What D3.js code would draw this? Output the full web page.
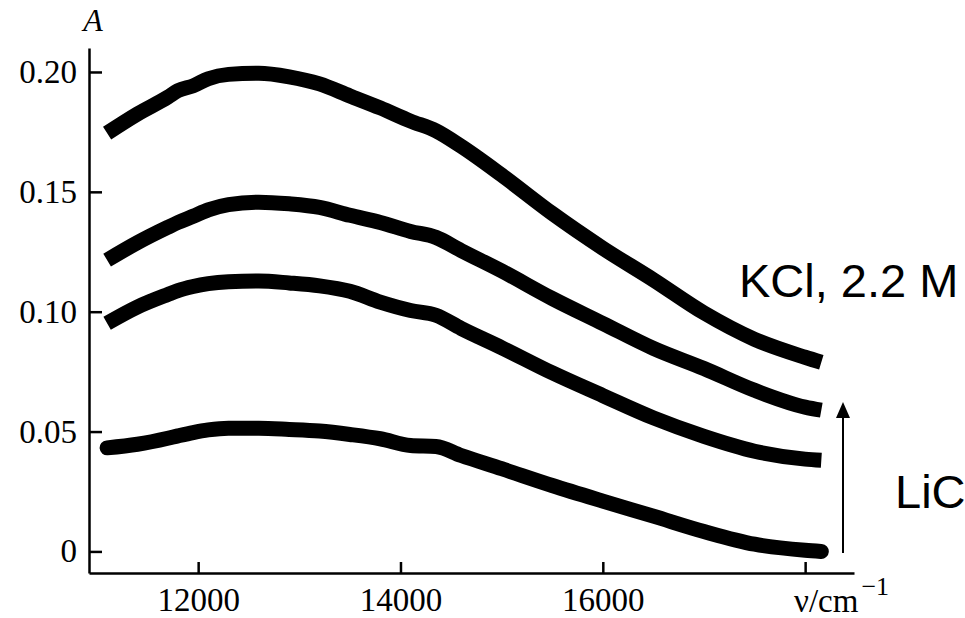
<!DOCTYPE html>
<html lang="en">
<head>
    <meta charset="UTF-8">
    <title>Absorption spectra</title>
    <script src="https://d3js.org/d3.v7.min.js"></script>
    <style>
        body { margin: 0; background: #fff; }
        .axis path, .axis line { stroke: #000; stroke-width: 2.5; fill: none; }
        .axis text { font-family: "Liberation Serif", "Times New Roman", serif; font-size: 33px; fill: #000; }
        .spectrum { fill: none; stroke: #000; stroke-width: 15; }
        .note { font-family: "Liberation Sans", Arial, sans-serif; font-size: 47px; fill: #000; }
    </style>
</head>
<body>
<svg id="chart" width="965" height="618"></svg>
<script>
    // wavenumbers (cm^-1) and absorbance for the four spectra, top to bottom
    const wavenumbers = [11100, 11400, 11700, 11800, 11950, 12100, 12300, 12600, 12900, 13200, 13500, 13800,
                         14100, 14350, 14600, 15000, 15500, 16000, 16500, 17000, 17500, 18000, 18160];
    const spectrum1 = [0.1745, 0.1825, 0.1895, 0.1922, 0.1942, 0.1972, 0.199, 0.1995, 0.198, 0.195, 0.190, 0.185,
                       0.1795, 0.1755, 0.169, 0.157, 0.141, 0.1265, 0.1133, 0.0995, 0.0885, 0.081, 0.0789];
    const spectrum2 = [0.1215, 0.1288, 0.1352, 0.1372, 0.1398, 0.1425, 0.1447, 0.1457, 0.145, 0.1435, 0.1402, 0.1372,
                       0.1335, 0.131, 0.1255, 0.117, 0.1055, 0.0951, 0.0847, 0.0763, 0.0672, 0.0602, 0.0589];
    const spectrum3 = [0.0952, 0.102, 0.1072, 0.1088, 0.1105, 0.1117, 0.1125, 0.1128, 0.112, 0.1108, 0.1085, 0.104,
                       0.1005, 0.0985, 0.093, 0.085, 0.0745, 0.065, 0.0557, 0.048, 0.0418, 0.0385, 0.038];
    const spectrum4 = [0.0432, 0.0447, 0.0472, 0.0482, 0.0496, 0.0507, 0.0514, 0.0514, 0.0509, 0.0502, 0.0488, 0.047,
                       0.0442, 0.0438, 0.040, 0.0345, 0.0275, 0.021, 0.0147, 0.0083, 0.003, 0.0005, 0.0];
    const series = [spectrum1, spectrum2, spectrum3, spectrum4];

    const xTicks = [12000, 14000, 16000, 18000];
    const yTicks = [0, 0.05, 0.10, 0.15, 0.20];

    const svg = d3.select("#chart");

    const x = d3.scaleLinear().domain([10921, 18483]).range([89, 854]);
    const y = d3.scaleLinear().domain([-0.009, 0.21]).range([573, 48]);

    // Y axis, ticks pointing inward
    svg.append("g")
        .attr("class", "axis")
        .attr("transform", "translate(89,0)")
        .call(d3.axisLeft(y)
            .tickValues(yTicks)
            .tickFormat(d => d === 0 ? "0" : d3.format(".2f")(d))
            .tickSizeInner(-13)
            .tickSizeOuter(0)
            .tickPadding(12));

    // X axis, last tick carries the unit instead of a number
    const xAxis = svg.append("g")
        .attr("class", "axis")
        .attr("transform", "translate(0,573)")
        .call(d3.axisBottom(x)
            .tickValues(xTicks)
            .tickFormat(d => d === 18000 ? "" : String(d))
            .tickSizeInner(-11)
            .tickSizeOuter(0)
            .tickPadding(15));
    xAxis.selectAll("line").attr("stroke-width", 2);

    const unit = svg.append("text")
        .attr("x", 794)
        .attr("y", 612)
        .style("font-family", "'Liberation Serif', serif")
        .style("font-size", "33px");
    unit.append("tspan").text("ν/cm");
    unit.append("tspan").attr("dx", 3).attr("dy", -17).style("font-size", "26px").text("−1");

    svg.append("text")
        .attr("x", 93)
        .attr("y", 31)
        .attr("text-anchor", "middle")
        .style("font-family", "'Liberation Serif', serif")
        .style("font-style", "italic")
        .style("font-size", "32px")
        .text("A");

    // Spectra
    const line = d3.line()
        .x((d, i) => x(wavenumbers[i]))
        .y(d => y(d))
        .curve(d3.curveMonotoneX);

    svg.selectAll(".spectrum")
        .data(series)
        .enter().append("path")
        .attr("class", "spectrum")
        .attr("stroke-linecap", (d, i) => i === 3 ? "round" : "butt")
        .attr("d", line);

    // Arrow and labels
    svg.append("line")
        .attr("x1", 843).attr("y1", 553)
        .attr("x2", 843).attr("y2", 416)
        .attr("stroke", "#000")
        .attr("stroke-width", 2);
    svg.append("path")
        .attr("d", "M843,402 L850,418 L836,418 Z")
        .attr("fill", "#000");

    svg.append("text").attr("class", "note").attr("x", 739).attr("y", 297).text("KCl, 2.2 M");
    svg.append("text").attr("class", "note").attr("x", 895).attr("y", 508).text("LiC");
</script>
</body>
</html>
